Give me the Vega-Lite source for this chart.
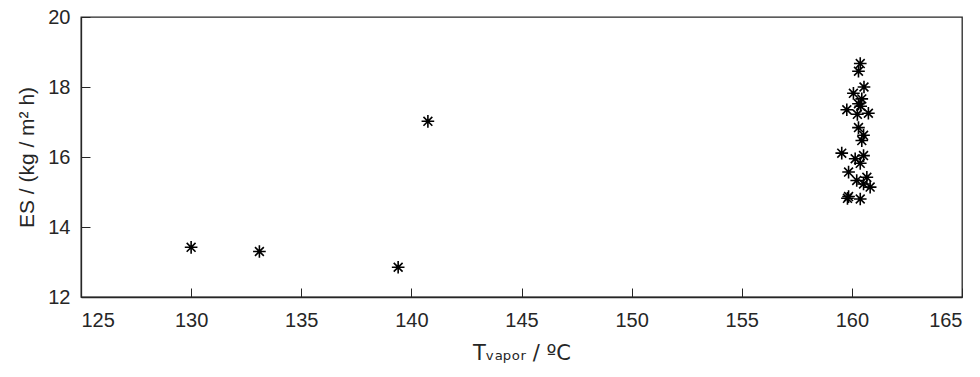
{
  "$schema": "https://vega.github.io/schema/vega-lite/v6.json",
  "autosize": "none",
  "width": 881,
  "height": 280,
  "padding": {"left": 81, "top": 17, "right": 18, "bottom": 80},
  "background": "white",
  "config": {
    "font": "Liberation Sans",
    "view": {"stroke": "#262626", "strokeWidth": 1.3},
    "axis": {
      "domainColor": "#262626", "domainWidth": 1.3,
      "tickColor": "#262626", "tickSize": -9, "tickWidth": 1,
      "labelColor": "#262626", "titleColor": "#262626",
      "labelFont": "Liberation Sans", "titleFont": "Liberation Sans",
      "labelFontSize": 20, "titleFontSize": 21, "titleFontWeight": "normal",
      "grid": false
    }
  },
  "data": {"values": [
    {"T": 130.0, "ES": 13.42},
    {"T": 133.1, "ES": 13.3},
    {"T": 139.4, "ES": 12.85},
    {"T": 140.75, "ES": 17.02},
    {"T": 160.38, "ES": 18.67},
    {"T": 160.3, "ES": 18.45},
    {"T": 160.55, "ES": 18.0},
    {"T": 160.07, "ES": 17.82},
    {"T": 160.45, "ES": 17.66},
    {"T": 160.3, "ES": 17.52},
    {"T": 160.4, "ES": 17.45},
    {"T": 159.77, "ES": 17.35},
    {"T": 160.75, "ES": 17.25},
    {"T": 160.25, "ES": 17.22},
    {"T": 160.3, "ES": 16.84},
    {"T": 160.53, "ES": 16.62},
    {"T": 160.45, "ES": 16.47},
    {"T": 159.54, "ES": 16.11},
    {"T": 160.53, "ES": 16.04},
    {"T": 160.15, "ES": 15.95},
    {"T": 160.38, "ES": 15.82},
    {"T": 159.85, "ES": 15.57},
    {"T": 160.68, "ES": 15.42},
    {"T": 160.22, "ES": 15.33},
    {"T": 160.53, "ES": 15.23},
    {"T": 160.83, "ES": 15.14},
    {"T": 159.85, "ES": 14.87},
    {"T": 160.38, "ES": 14.8},
    {"T": 159.8, "ES": 14.82}
  ]},
  "mark": {
    "type": "point",
    "shape": "M-1,0L1,0M0,-1L0,1M-0.7,-0.7L0.7,0.7M-0.7,0.7L0.7,-0.7",
    "filled": false,
    "stroke": "black",
    "strokeWidth": 1.6,
    "size": 160,
    "opacity": 1
  },
  "encoding": {
    "x": {
      "field": "T", "type": "quantitative",
      "scale": {"domain": [125, 165], "nice": false, "zero": false},
      "axis": {"values": [125,130,135,140,145,150,155,160,165], "title": "Tᵥₐₚₒᵣ / ºC", "titleFont": "DejaVu Sans", "titleFontSize": 21, "labelPadding": 22, "titlePadding": 12}
    },
    "y": {
      "field": "ES", "type": "quantitative",
      "scale": {"domain": [12, 20], "nice": false, "zero": false},
      "axis": {"values": [12,14,16,18,20], "title": "ES / (kg / m² h)", "labelPadding": 20, "titlePadding": 10}
    }
  }
}
